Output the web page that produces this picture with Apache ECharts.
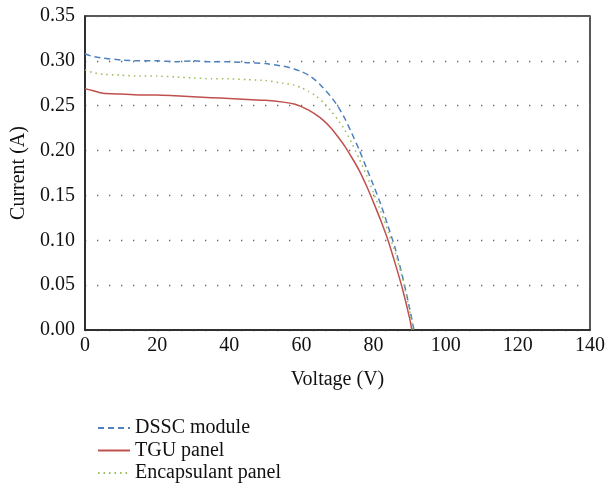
<!DOCTYPE html>
<html>
<head>
<meta charset="utf-8">
<script src="https://cdn.jsdelivr.net/npm/echarts@6/dist/echarts.min.js"></script>
<style>
  html, body { margin: 0; padding: 0; background: #fff; }
  #main { width: 608px; height: 492px; }
</style>
</head>
<body>
<div id="main"></div>
<script>
// I-V curves
const seriesNames = ['DSSC module', 'TGU panel', 'Encapsulant panel'];

const dsscV = [0, 2, 5, 10, 15, 20, 25, 30, 35, 40, 45, 50, 55, 58, 60, 62, 64, 66, 68, 70, 72, 74, 76, 78, 80, 82, 84, 86, 88, 90, 91.2];
const dsscI = [0.308, 0.305, 0.303, 0.301, 0.300, 0.300, 0.299, 0.300, 0.299, 0.299, 0.298, 0.297, 0.294, 0.291, 0.288, 0.284, 0.278, 0.270, 0.261, 0.250, 0.236, 0.219, 0.201, 0.181, 0.161, 0.140, 0.116, 0.091, 0.060, 0.024, 0];

const tguV = [0, 2, 5, 10, 15, 20, 25, 30, 35, 40, 45, 50, 55, 58, 60, 62, 64, 66, 68, 70, 72, 74, 76, 78, 80, 82, 84, 86, 88, 90, 90.6];
const tguI = [0.269, 0.267, 0.264, 0.263, 0.262, 0.262, 0.261, 0.260, 0.259, 0.258, 0.257, 0.256, 0.254, 0.252, 0.249, 0.245, 0.240, 0.234, 0.226, 0.216, 0.205, 0.192, 0.178, 0.161, 0.142, 0.122, 0.100, 0.074, 0.046, 0.013, 0];

const encV = [0, 2, 5, 10, 15, 20, 25, 30, 35, 40, 45, 50, 55, 58, 60, 62, 64, 66, 68, 70, 72, 74, 76, 78, 80, 82, 84, 86, 88, 90, 90.9];
const encI = [0.290, 0.287, 0.285, 0.284, 0.283, 0.283, 0.282, 0.281, 0.280, 0.280, 0.279, 0.278, 0.275, 0.273, 0.270, 0.266, 0.261, 0.254, 0.245, 0.235, 0.223, 0.208, 0.191, 0.173, 0.153, 0.132, 0.110, 0.086, 0.058, 0.022, 0];

function pairs(xs, ys) {
    return xs.map((x, i) => [x, ys[i]]);
}

const font = 'Liberation Serif';
const txt = { fontFamily: font, fontSize: 20, color: '#111' };
const chart = echarts.init(document.getElementById('main'));

// one legend per row so they stack like the original
const legends = seriesNames.map((n, i) => ({
    left: 92, top: 413 + i * 22.5,
    itemWidth: 32, itemHeight: 14, itemGap: 8,
    data: [n],
    itemStyle: { opacity: 0 },
    textStyle: txt
}));

const option = {
    animation: false,
    backgroundColor: '#fff',
    textStyle: { fontFamily: font },
    grid: {
        left: 85, right: 16, top: 16, bottom: 162,
        show: true, borderColor: '#222', borderWidth: 1.5
    },
    legend: legends,
    xAxis: {
        type: 'value', min: 0, max: 140, interval: 20,
        name: 'Voltage (V)', nameLocation: 'middle', nameGap: 40,
        nameTextStyle: txt,
        axisLine: { show: true, lineStyle: { color: '#222', width: 1.5 } },
        axisTick: { show: false },
        splitLine: { show: false },
        axisLabel: Object.assign({ margin: 6 }, txt)
    },
    yAxis: {
        type: 'value', min: 0, max: 0.35, interval: 0.05,
        name: 'Current (A)', nameLocation: 'middle', nameGap: 55,
        nameTextStyle: txt,
        axisLine: { show: true, lineStyle: { color: '#222', width: 1.5 } },
        axisTick: { show: false },
        splitLine: { show: true, lineStyle: { color: '#666', width: 1.3, type: [1.3, 10.7] } },
        axisLabel: Object.assign({ margin: 10, formatter: v => v.toFixed(2) }, txt)
    },
    series: [
        {
            name: seriesNames[0], type: 'line', symbol: 'none', smooth: 0.2,
            data: pairs(dsscV, dsscI),
            lineStyle: { color: '#4f81bd', width: 1.5, type: [6, 4] },
            itemStyle: { color: '#4f81bd' }
        },
        {
            name: seriesNames[1], type: 'line', symbol: 'none', smooth: 0.2,
            data: pairs(tguV, tguI),
            lineStyle: { color: '#c0504d', width: 1.5 },
            itemStyle: { color: '#c0504d' }
        },
        {
            name: seriesNames[2], type: 'line', symbol: 'none', smooth: 0.2,
            data: pairs(encV, encI),
            lineStyle: { color: '#9bbb59', width: 1.5, type: [1.5, 4] },
            itemStyle: { color: '#9bbb59' }
        }
    ]
};

chart.setOption(option);
</script>
</body>
</html>
